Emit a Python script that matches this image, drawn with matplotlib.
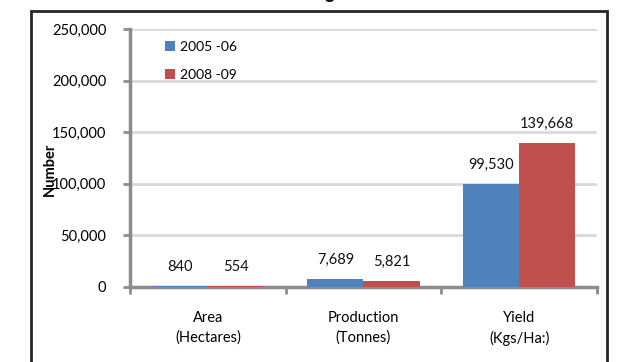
import matplotlib
matplotlib.use("Agg")
import matplotlib.pyplot as plt
from matplotlib.patches import Rectangle
from matplotlib.ticker import FuncFormatter, FixedLocator

categories = ["Area\n(Hectares)", "Production\n(Tonnes)", "Yield\n(Kgs/Ha:)"]
series_names = ["2005 -06", "2008 -09"]
values_0506 = [840, 7689, 99530]
values_0809 = [554, 5821, 139668]
y_ticks = [0, 50000, 100000, 150000, 200000, 250000]

plt.rcParams['font.family'] = ['Lato', 'DejaVu Sans']

W, H = 620, 362
fig = plt.figure(figsize=(W / 100, H / 100), dpi=100)

def fx(px):
    return px / W

def fy(py):
    return 1 - py / H

ax = fig.add_axes([fx(130), fy(287), fx(597) - fx(130), fy(29) - fy(287)])

blue = "#4f81bd"
red = "#c0504d"
bw = 0.36
xs = list(range(len(categories)))
b1 = ax.bar([x - bw / 2 for x in xs], values_0506, width=bw, color=blue, label=series_names[0], zorder=3)
b2 = ax.bar([x + bw / 2 for x in xs], values_0809, width=bw, color=red, label=series_names[1], zorder=3)

for bars, vals in ((b1, values_0506), (b2, values_0809)):
    for rect, v in zip(bars, vals):
        ax.annotate(f"{v:,}", (rect.get_x() + rect.get_width() / 2, v),
                    xytext=(0, 19), textcoords="offset pixels",
                    ha="center", va="center", fontsize=10.5, color="#111111")

ax.set_xlim(-0.5, 2.5)
ax.set_ylim(0, 250000)
ax.set_yticks(y_ticks)
ax.yaxis.set_major_formatter(FuncFormatter(lambda v, p: f"{int(v):,}"))
ax.grid(axis="y", color="#d9d9d9", linewidth=2, zorder=0)
ax.set_axisbelow(True)

ax.set_xticks(xs)
ax.set_xticklabels(categories, fontsize=10.5, linespacing=1.5)
ax.xaxis.set_minor_locator(FixedLocator([-0.5, 0.5, 1.5, 2.5]))
ax.tick_params(axis="x", which="major", length=0, pad=17)
ax.tick_params(axis="x", which="minor", length=5, width=2, color="#8c8c8c", direction="out")
ax.tick_params(axis="y", length=5, width=2, color="#8c8c8c", labelsize=10.5, pad=12)

for s in ("top", "right"):
    ax.spines[s].set_visible(False)
for s in ("left", "bottom"):
    ax.spines[s].set_color("#8c8c8c")
    ax.spines[s].set_linewidth(2.5)

fig.text(fx(50), fy(169), "Number", rotation=90, ha="center", va="center",
         fontsize=10.5, fontweight="bold")

leg = ax.legend(loc="upper left", bbox_to_anchor=(fx(165), fy(41)),
                bbox_transform=fig.transFigure, frameon=False,
                fontsize=10, handlelength=0.7, handleheight=0.7,
                handletextpad=0.35, labelspacing=1.15, borderpad=0, borderaxespad=0)

# outer chart frame
fig.patches.append(Rectangle((fx(31), fy(372)), fx(607) - fx(31), fy(11) - fy(372),
                             transform=fig.transFigure, fill=False,
                             edgecolor="#262626", linewidth=2))

# cropped title (only descender visible)
fig.text(fx(329), fy(-1), "g", ha="center", va="baseline", fontsize=13,
         fontweight="bold")

fig.savefig("out.png", dpi=100)
